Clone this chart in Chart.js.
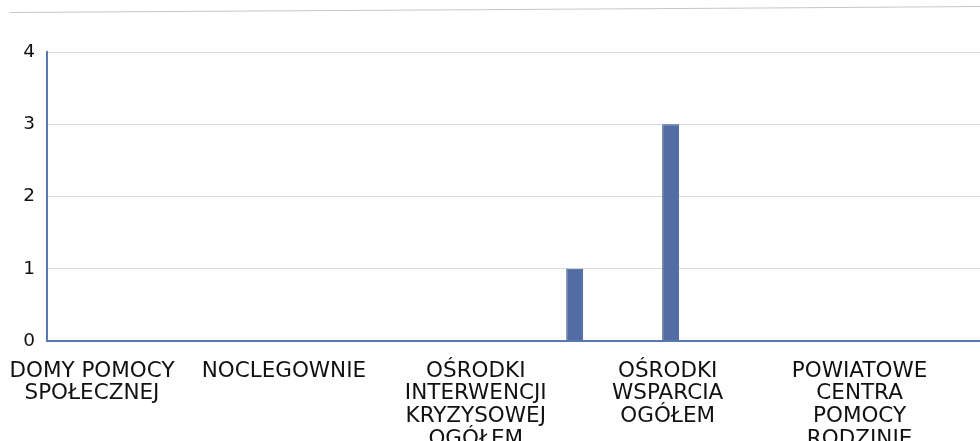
<!DOCTYPE html>
<html>
<head>
<meta charset="utf-8">
<script src="https://cdn.jsdelivr.net/npm/chart.js@4/dist/chart.umd.min.js"></script>
<style>
  html, body { margin: 0; padding: 0; background: #ffffff; overflow: hidden; width: 980px; height: 441px; }
  #wrap { position: relative; width: 1010px; height: 441px; }
  #rule { position: absolute; left: 10px; top: 12px; width: 975px; height: 1px; background: #c4c6cc; transform: rotate(-0.35deg); transform-origin: left center; }
  canvas { position: absolute; left: 0; top: 0; }
</style>
</head>
<body>
<div id="wrap">
  <div id="rule"></div>
  <canvas id="c" width="1010" height="441"></canvas>
</div>
<script>
// Categories (labels hidden in the source for odd positions are left blank)
const categories = [
  ["DOMY POMOCY", "SPOŁECZNEJ"],
  "",
  ["NOCLEGOWNIE"],
  "",
  ["OŚRODKI", "INTERWENCJI", "KRYZYSOWEJ", "OGÓŁEM"],
  "",
  ["OŚRODKI", "WSPARCIA", "OGÓŁEM"],
  "",
  ["POWIATOWE", "CENTRA", "POMOCY", "RODZINIE"],
  ""
];
const values = [0, 0, 0, 0, 0, 1, 3, 0, 0, 0];
const yTicks = [0, 1, 2, 3, 4];

const axisBlue = '#5a78b2';

new Chart(document.getElementById('c'), {
  type: 'bar',
  data: {
    labels: categories,
    datasets: [{
      data: values,
      backgroundColor: '#526ca4',
      borderColor: '#3d5589',
      borderWidth: 1,
      borderSkipped: 'bottom',
      barPercentage: 0.177,
      categoryPercentage: 1
    }]
  },
  options: {
    responsive: false,
    animation: false,
    devicePixelRatio: 1,
    layout: { padding: { top: 52, right: 3.5, left: 0, bottom: 0 } },
    plugins: { legend: { display: false }, tooltip: { enabled: false }, title: { display: false } },
    scales: {
      x: {
        grid: { display: false, drawTicks: false },
        border: { color: axisBlue, width: 2 },
        ticks: {
          autoSkip: false,
          maxRotation: 0,
          minRotation: 0,
          padding: 19,
          labelOffset: -3,
          color: '#111111',
          font: { family: 'DejaVu Sans', size: 21.5, lineHeight: 1.05 }
        },
        afterFit: (s) => { s.height = 100; s.paddingLeft = 0; s.paddingRight = 0; }
      },
      y: {
        min: 0,
        max: 4,
        afterBuildTicks: (s) => { s.ticks = yTicks.map(v => ({ value: v })); },
        grid: { color: '#d9dade', lineWidth: 1, drawTicks: false },
        border: { color: axisBlue, width: 2 },
        ticks: {
          padding: 12,
          color: '#111111',
          font: { family: 'DejaVu Sans', size: 18.5 }
        },
        afterFit: (s) => { s.width = 47; }
      }
    }
  }
});
</script>
</body>
</html>
